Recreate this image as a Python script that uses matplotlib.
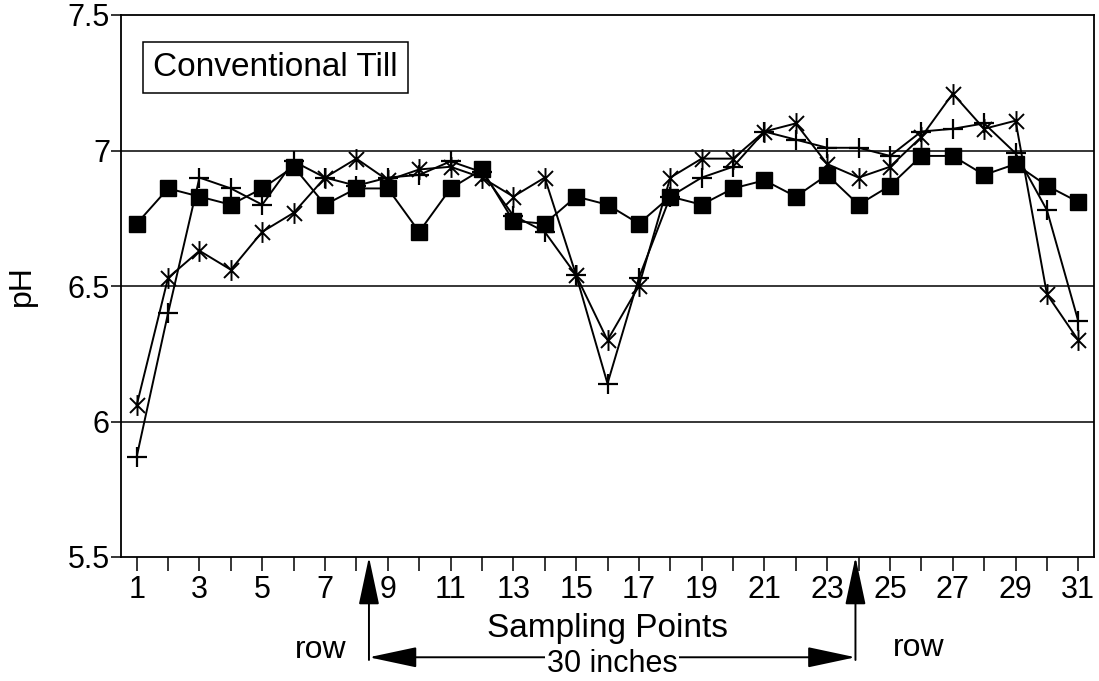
import numpy as np
import matplotlib
matplotlib.use("Agg")
import matplotlib.pyplot as plt
from matplotlib.path import Path
from matplotlib.ticker import MultipleLocator, FixedLocator
import matplotlib.transforms as mtransforms

plt.rcParams['font.family'] = ['Liberation Sans', 'DejaVu Sans']

# sampling points 1..31
points = list(range(1, 32))

# pH series
ph_square = [6.73, 6.86, 6.83, 6.80, 6.86, 6.94, 6.80, 6.86, 6.86, 6.70,
             6.86, 6.93, 6.74, 6.73, 6.83, 6.80, 6.73, 6.83, 6.80, 6.86,
             6.89, 6.83, 6.91, 6.80, 6.87, 6.98, 6.98, 6.91, 6.95, 6.87, 6.81]
ph_star = [6.06, 6.53, 6.63, 6.56, 6.70, 6.77, 6.90, 6.97, 6.89, 6.93,
           6.94, 6.90, 6.83, 6.90, 6.54, 6.30, 6.50, 6.90, 6.97, 6.97,
           7.07, 7.10, 6.95, 6.90, 6.94, 7.05, 7.21, 7.08, 7.11, 6.47, 6.30]
ph_plus = [5.87, 6.40, 6.90, 6.86, 6.80, 6.96, 6.90, 6.87, 6.90, 6.91,
           6.96, 6.92, 6.76, 6.70, 6.54, 6.14, 6.53, 6.83, 6.90, 6.94,
           7.07, 7.04, 7.01, 7.01, 6.98, 7.07, 7.08, 7.10, 6.99, 6.78, 6.37]

grid_levels = [6.0, 6.5, 7.0]
row_positions = [8.4, 23.9]   # where the crop rows sit on the x axis

# excel-like "star" marker: vertical bar + X
star_path = Path([(0, -1), (0, 1), (-0.72, -0.72), (0.72, 0.72), (-0.72, 0.72), (0.72, -0.72)],
                 [Path.MOVETO, Path.LINETO, Path.MOVETO, Path.LINETO, Path.MOVETO, Path.LINETO])

fig = plt.figure(figsize=(10.99, 6.81), dpi=100)
ax = fig.add_axes([121 / 1099, 124 / 681, 973 / 1099, 542 / 681])

for g in grid_levels:
    ax.axhline(g, color='black', lw=1.1, zorder=1)

ax.plot(points, ph_star, color='black', lw=1.4, marker=star_path, ms=15, mew=1.4,
        mfc='none', mec='black', zorder=3)
ax.plot(points, ph_plus, color='black', lw=1.4, marker='+', ms=15, mew=1.6, zorder=3)
ax.plot(points, ph_square, color='black', lw=1.4, marker='s', ms=11.5, mfc='black',
        mec='black', zorder=4)

ax.set_xlim(0.5, 31.5)
ax.set_ylim(5.5, 7.5)
ax.xaxis.set_major_locator(FixedLocator(points[::2]))
ax.xaxis.set_minor_locator(FixedLocator(points[1::2]))
ax.set_yticks([5.5, 6, 6.5, 7, 7.5])
ax.set_yticklabels(['5.5', '6', '6.5', '7', '7.5'])
ax.tick_params(axis='y', direction='out', length=7, width=1.1, labelsize=22, pad=1)
ax.tick_params(axis='x', which='both', direction='out', length=10, width=1.1, pad=3)
for lbl in ax.get_xticklabels():
    lbl.set_fontsize(22)
    lbl.set_family(['Liberation Sans Narrow', 'Liberation Sans'])
for s in ax.spines.values():
    s.set_linewidth(1.3)

ax.set_ylabel('pH', fontsize=23, labelpad=22)
ax.set_xlabel('Sampling Points', fontsize=24, labelpad=6)

ax.text(0.033, 0.903, 'Conventional Till', transform=ax.transAxes, fontsize=24,
        va='center', ha='left',
        bbox=dict(boxstyle='square,pad=0.3', fc='white', ec='black', lw=1.1))

# row markers and the 30 inch spacing below the axis
trans = mtransforms.blended_transform_factory(ax.transData, ax.transAxes)
arrow_y = -0.185
for xr in row_positions:
    ax.annotate('', xy=(xr, 0.0), xytext=(xr, arrow_y - 0.005), xycoords=trans, textcoords=trans,
                arrowprops=dict(arrowstyle='-|>,head_length=1.5,head_width=0.32', color='black',
                                lw=1.4, mutation_scale=20, shrinkA=0, shrinkB=0),
                annotation_clip=False)
ax.annotate('', xy=(row_positions[0], arrow_y), xytext=(row_positions[1], arrow_y),
            xycoords=trans, textcoords=trans,
            arrowprops=dict(arrowstyle='<|-|>,head_length=1.5,head_width=0.32', color='black',
                            lw=1.4, mutation_scale=20, shrinkA=0, shrinkB=0),
            annotation_clip=False)
ax.text(np.mean(row_positions), arrow_y - 0.012, '30 inches', transform=trans, fontsize=22,
        ha='center', va='center', bbox=dict(boxstyle='square,pad=0.05', fc='white', ec='none'))
ax.text(6.85, -0.172, 'row', transform=trans, fontsize=23, ha='center', va='center')
ax.text(25.9, -0.168, 'row', transform=trans, fontsize=23, ha='center', va='center')

fig.savefig('out.png', dpi=100)
